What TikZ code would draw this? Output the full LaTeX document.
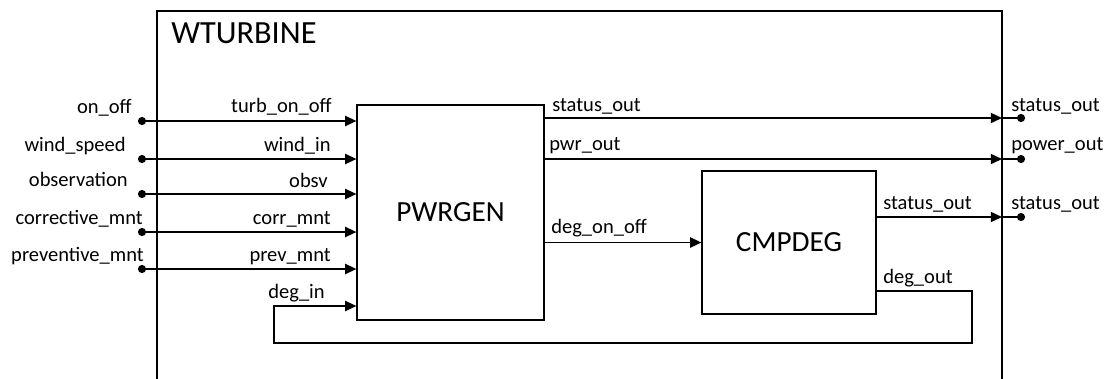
\documentclass[tikz,border=0pt]{standalone}
\usepackage{fontspec}
\setmainfont{Carlito}
\usetikzlibrary{arrows.meta}

\begin{document}
\begin{tikzpicture}[x=0.025cm, y=-0.025cm,
  blk/.style={draw, line width=0.8pt, inner sep=0pt, font=\fontsize{20.8}{24}\selectfont},
  sig/.style={line width=1.25pt},
  sigarr/.style={sig, -{Triangle[length=8pt, width=7.2pt]}},
  port/.style={circle, fill=black, inner sep=0pt, minimum size=5.8pt},
  lbl/.style={inner sep=0pt, font=\fontsize{14.6}{17}\selectfont}]
\clip (0,0) rectangle (1107,378);

% outer component, open at the bottom
\coordinate (wt_nw) at (157,11);
\coordinate (wt_ne) at (1002,11);
\draw[line width=0.9pt] (157,400) -- (wt_nw) -- (wt_ne) -- (1002,400);
\node[anchor=base west, inner sep=0pt, font=\fontsize{23}{27}\selectfont] (wt) at (171,43) {WTURBINE};

% sub-blocks
\node[blk, minimum width=4.675cm, minimum height=5.375cm] (pwrgen) at (450.5,212.5) {PWRGEN};
\node[blk, minimum width=4.35cm, minimum height=3.575cm] (cmpdeg) at (789,242.5) {CMPDEG};

% input ports
\node[port] (i_onoff) at (142,121) {};
\node[port] (i_wind) at (142,159) {};
\node[port] (i_obs) at (142,194) {};
\node[port] (i_corr) at (142,232) {};
\node[port] (i_prev) at (142,269) {};
\draw[sigarr] (i_onoff) -- (pwrgen.west |- i_onoff);
\draw[sigarr] (i_wind) -- (pwrgen.west |- i_wind);
\draw[sigarr] (i_obs) -- (pwrgen.west |- i_obs);
\draw[sigarr] (i_corr) -- (pwrgen.west |- i_corr);
\draw[sigarr] (i_prev) -- (pwrgen.west |- i_prev);

\node[lbl, anchor=base east] (l_onoff) at (132,113) {on\_off};
\node[lbl, anchor=base east] (l_wind) at (126,151) {wind\_speed};
\node[lbl, anchor=base east] (l_obs) at (128,186) {observation};
\node[lbl, anchor=base east] (l_corr) at (143,224) {corrective\_mnt};
\node[lbl, anchor=base east] (l_prev) at (144,261) {preventive\_mnt};

\node[lbl, anchor=base east] (l_turb) at (332,112) {turb\_on\_off};
\node[lbl, anchor=base east] (l_windin) at (331,151) {wind\_in};
\node[lbl, anchor=base east] (l_obsv) at (328,187) {obsv};
\node[lbl, anchor=base east] (l_corrm) at (331,224) {corr\_mnt};
\node[lbl, anchor=base east] (l_prevm) at (331,261) {prev\_mnt};

% output ports
\node[port] (o_status) at (1021,118) {};
\node[port] (o_power) at (1021,159) {};
\node[port] (o_status2) at (1021,217) {};
\draw[sigarr] (pwrgen.east |- o_status) -- (wt_ne |- o_status);
\draw[sig] (wt_ne |- o_status) -- (o_status);
\draw[sigarr] (pwrgen.east |- o_power) -- (wt_ne |- o_power);
\draw[sig] (wt_ne |- o_power) -- (o_power);
\draw[sigarr] (cmpdeg.east |- o_status2) -- (wt_ne |- o_status2);
\draw[sig] (wt_ne |- o_status2) -- (o_status2);

\node[lbl, anchor=base west] (l_stat) at (552,111) {status\_out};
\node[lbl, anchor=base west] (l_pwr) at (549,150) {pwr\_out};
\node[lbl, anchor=base west] (l_stat2) at (883,209) {status\_out};
\node[lbl, anchor=base west] (lo_stat) at (1011,111) {status\_out};
\node[lbl, anchor=base west] (lo_power) at (1011,150) {power\_out};
\node[lbl, anchor=base west] (lo_stat2) at (1011,209) {status\_out};

% degradation link and feedback
\draw[sigarr] (pwrgen.east |- cmpdeg.west) -- (cmpdeg.west);
\node[lbl, anchor=base west] (l_degon) at (551,233) {deg\_on\_off};

\coordinate (fb_r) at (972,291);
\coordinate (fb_l) at (274,343);
\coordinate (fb_in) at (274,306);
\draw[sigarr] (cmpdeg.east |- fb_r) -- (fb_r) |- (fb_l) -- (fb_in) -- (pwrgen.west |- fb_in);
\node[lbl, anchor=base west] (l_degout) at (883,283) {deg\_out};
\node[lbl, anchor=base east] (l_degin) at (325,298) {deg\_in};
\end{tikzpicture}
\end{document}
